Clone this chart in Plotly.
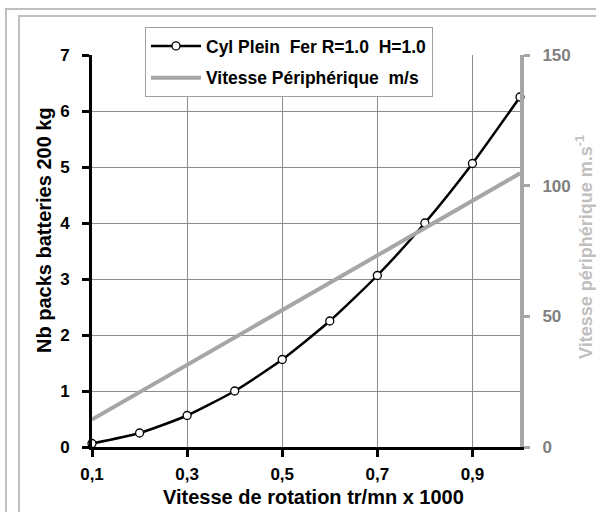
import plotly.graph_objects as go

vitesse_rot = [0.1, 0.2, 0.3, 0.4, 0.5, 0.6, 0.7, 0.8, 0.9, 1.0]
nb_packs = [0.0625, 0.25, 0.5625, 1.0, 1.5625, 2.25, 3.0625, 4.0, 5.0625, 6.25]
vitesse_periph = [10.47, 20.94, 31.42, 41.89, 52.36, 62.83, 73.30, 83.78, 94.25, 104.72]
x_ticks = [0.1, 0.3, 0.5, 0.7, 0.9]
x_tick_labels = ["0,1", "0,3", "0,5", "0,7", "0,9"]
y_ticks = [0, 1, 2, 3, 4, 5, 6, 7]
y2_ticks = [0, 50, 100, 150]

NB = "\u00a0"
FONT = "Liberation Sans, Arial, sans-serif"

fig = go.Figure()
fig.add_trace(go.Scatter(
    x=vitesse_rot, y=nb_packs, mode="lines+markers",
    name=f"Cyl Plein{NB}{NB}Fer R=1.0{NB}{NB}H=1.0", legendgroup="a",
    line=dict(color="black", width=2.5, shape="spline", smoothing=0.6),
    marker=dict(symbol="circle", size=8, color="white", line=dict(color="black", width=1.3)),
    cliponaxis=False, yaxis="y",
))
fig.add_trace(go.Scatter(
    x=vitesse_rot, y=vitesse_periph, mode="lines",
    name=f"Vitesse Périphérique{NB}{NB}m/s", legendgroup="b",
    line=dict(color="#a6a6a6", width=4),
    yaxis="y2",
))

W, H = 596, 512
L, R, T, B = 92, 76, 55, 65
pw, ph = W - L - R, H - T - B

def px(x):
    return (x - L) / pw

def py(y):
    return (H - B - y) / ph

annotations = [
    dict(text="Vitesse de rotation tr/mn x 1000", xref="paper", yref="paper",
         x=px(313), y=py(497), xanchor="center", yanchor="middle", showarrow=False,
         font=dict(family=FONT, size=20, color="black", weight="bold")),
    dict(text="Nb packs batteries 200 kg", xref="paper", yref="paper",
         x=px(44), y=py(230), xanchor="center", yanchor="middle", showarrow=False, textangle=-90,
         font=dict(family=FONT, size=20, color="black", weight="bold")),
    dict(text="Vitesse périphérique m.s<sup>-1</sup>", xref="paper", yref="paper",
         x=px(584), y=py(247), xanchor="center", yanchor="middle", showarrow=False, textangle=-90,
         font=dict(family=FONT, size=18, color="#c0c0c0", weight="bold")),
]

fig.update_layout(
    width=W, height=H,
    margin=dict(l=L, r=R, t=T, b=B, autoexpand=False),
    paper_bgcolor="white", plot_bgcolor="white",
    separators=", ",
    font=dict(family=FONT, size=17, color="black", weight="bold"),
    showlegend=True,
    legend=dict(x=px(145), y=py(27), xanchor="left", yanchor="top",
                bgcolor="white", bordercolor="#a0a0a0", borderwidth=1,
                font=dict(family=FONT, size=17.5, color="black", weight="bold"),
                itemwidth=50, tracegroupgap=6),
    xaxis=dict(
        range=[0.1, 1.0], tickmode="array", tickvals=x_ticks, ticktext=x_tick_labels,
        showgrid=True, gridcolor="#8c8c8c", gridwidth=1,
        showline=True, linecolor="black", linewidth=3,
        ticks="outside", ticklen=7, tickwidth=2.5, tickcolor="black",
        ticklabelstandoff=3,
        zeroline=False, automargin=False,
        tickfont=dict(family=FONT, size=17, color="black", weight="bold"),
    ),
    yaxis=dict(
        range=[0, 7], tickmode="array", tickvals=y_ticks,
        showgrid=True, gridcolor="#8c8c8c", gridwidth=1,
        showline=True, linecolor="black", linewidth=3,
        ticks="outside", ticklen=7, tickwidth=2.5, tickcolor="black",
        ticklabelstandoff=9,
        zeroline=False, automargin=False,
        tickfont=dict(family=FONT, size=17, color="black", weight="bold"),
    ),
    yaxis2=dict(
        range=[0, 150], tickmode="array", tickvals=y2_ticks,
        overlaying="y", side="right", anchor="x",
        showgrid=False, zeroline=False, automargin=False,
        showline=True, linecolor="#a6a6a6", linewidth=4,
        ticks="outside", ticklen=6, tickwidth=2.5, tickcolor="#a6a6a6",
        ticklabelstandoff=9,
        tickfont=dict(family=FONT, size=17, color="#808080", weight="bold"),
    ),
    annotations=annotations,
)

frame_js = """
document.body.style.margin='0';
document.body.style.overflow='hidden';
[[5, 8], [18, 15]].forEach(function(p) {
  var d = document.createElement('div');
  d.style.cssText = 'position:fixed;left:' + p[0] + 'px;top:' + p[1] + 'px;width:800px;height:800px;' +
                    'border:2px solid #c0c0c0;pointer-events:none;z-index:10;box-sizing:border-box;';
  document.body.appendChild(d);
});
"""

fig.write_html("out.html", config={"displayModeBar": False}, post_script=frame_js)
